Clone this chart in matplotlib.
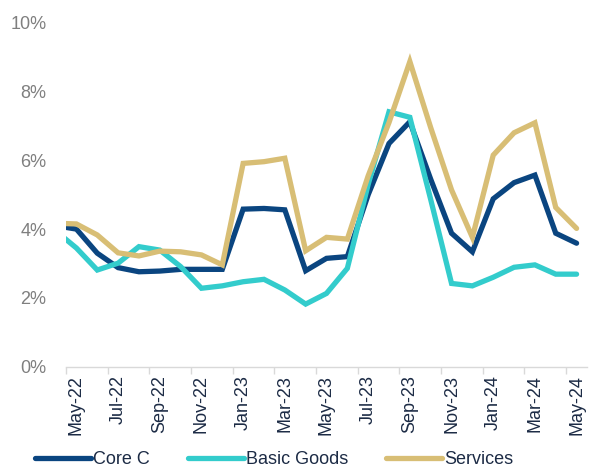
import matplotlib
matplotlib.use("Agg")
import matplotlib.pyplot as plt
import numpy as np

plt.rcParams['font.family'] = ['Liberation Sans', 'DejaVu Sans']

# Monthly data, Apr-22 .. May-24 (Apr-22 lies just outside the visible axis)
months = ["Apr-22", "May-22", "Jun-22", "Jul-22", "Aug-22", "Sep-22", "Oct-22", "Nov-22", "Dec-22",
          "Jan-23", "Feb-23", "Mar-23", "Apr-23", "May-23", "Jun-23", "Jul-23", "Aug-23", "Sep-23",
          "Oct-23", "Nov-23", "Dec-23", "Jan-24", "Feb-24", "Mar-24", "Apr-24", "May-24"]
core_c = [4.10, 4.00, 3.30, 2.88, 2.76, 2.78, 2.83, 2.83, 2.83,
          4.58, 4.60, 4.56, 2.79, 3.15, 3.20, 5.00, 6.49, 7.12,
          5.45, 3.88, 3.34, 4.88, 5.35, 5.57, 3.88, 3.59]
basic_goods = [3.95, 3.45, 2.81, 3.01, 3.49, 3.39, 2.91, 2.28, 2.35,
               2.47, 2.54, 2.23, 1.82, 2.13, 2.86, 5.30, 7.41, 7.25,
               4.86, 2.42, 2.35, 2.60, 2.89, 2.96, 2.69, 2.69]
services = [4.17, 4.15, 3.83, 3.31, 3.22, 3.36, 3.34, 3.25, 2.96,
            5.91, 5.96, 6.06, 3.37, 3.76, 3.71, 5.55, 7.10, 8.87,
            6.95, 5.14, 3.76, 6.15, 6.80, 7.09, 4.63, 4.02]
series_names = ["Core C", "Basic Goods", "Services"]
colors = ["#0A4580", "#33CCCC", "#D8BE75"]
y_ticks = [0, 2, 4, 6, 8, 10]

x = np.arange(len(months)) - 1  # May-22 at 0

fig = plt.figure(figsize=(5.93, 4.73), dpi=100)
ax = fig.add_axes([66/593, 1-366.7/473, (587-66)/593, (366.7-22.7)/473])

for vals, name, c in zip([core_c, basic_goods, services], series_names, colors):
    ax.plot(x, vals, color=c, lw=3.8, label=name, solid_joinstyle='miter', solid_capstyle='round')

ax.set_xlim(-0.5, len(months) - 1.5)
ax.set_ylim(0, 10)
ax.set_yticks(y_ticks)
ax.set_yticklabels([f"{v}%" for v in y_ticks], color="#7F7F7F", fontsize=13)
ax.tick_params(axis='y', length=0, pad=14)

label_idx = list(range(1, len(months), 2))
ax.set_xticks(x[label_idx])
ax.set_xticklabels([months[i] for i in label_idx], rotation=90, color="#1C2B45", fontsize=13)
ax.tick_params(axis='x', which='major', length=0, pad=6)
ax.set_xticks(np.arange(-0.5, len(months) - 1.5, 2), minor=True)
ax.tick_params(axis='x', which='minor', length=5, color="#D9D9D9", width=1)

for s in ['top', 'right', 'left']:
    ax.spines[s].set_visible(False)
ax.spines['bottom'].set_color("#D9D9D9")
ax.spines['bottom'].set_linewidth(1)

leg = fig.legend(loc='lower center', ncol=3, frameon=False, fontsize=13,
                 bbox_to_anchor=(0.462, -0.024), handlelength=3.1, handletextpad=0.12,
                 columnspacing=2.1)
for t in leg.get_texts():
    t.set_color("#1C2B45")
for h in leg.legend_handles:
    h.set_solid_capstyle('round')

fig.savefig("out.png", dpi=100)
